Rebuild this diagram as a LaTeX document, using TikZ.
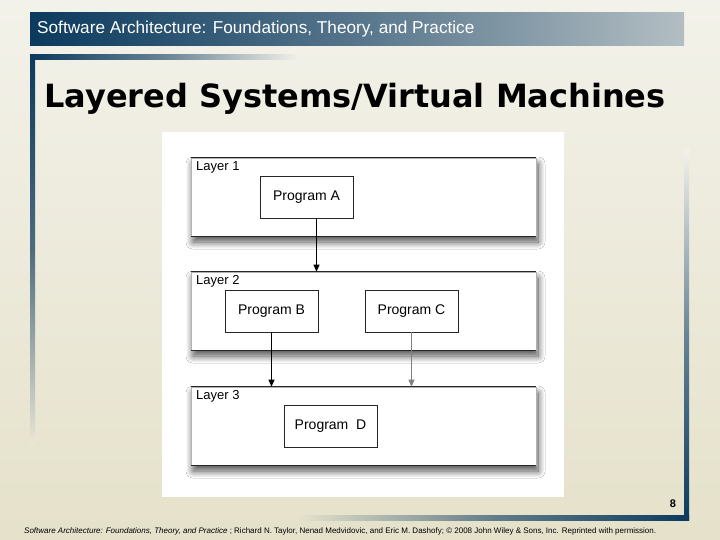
\documentclass[tikz,border=0pt]{standalone}
\usepackage{fontspec}
\setmainfont{Liberation Sans}
\newfontfamily\titlefont{DejaVu Sans}
\usetikzlibrary{arrows.meta,shadows.blur}
\definecolor{navy}{HTML}{0B3A5E}
\definecolor{bgtop}{HTML}{F3F2EA}
\definecolor{bgbot}{HTML}{E5E1CA}
\definecolor{hdrlight}{HTML}{B3BEC3}
\tikzset{
  layerbox/.style={draw=gray!60, line width=0.6pt, fill=white, minimum width=345pt, minimum height=78pt,
    blur shadow={shadow xshift=2pt, shadow yshift=-6pt, shadow blur radius=7pt, shadow blur steps=14, shadow opacity=70}},
  layeredge/.style={line width=1.3pt, draw=black!85},
  progbox/.style={draw=black!85, line width=0.9pt, fill=white, minimum width=93pt, minimum height=42pt,
    font=\fontsize{14}{16}\selectfont, inner sep=0pt},
  layerlabel/.style={anchor=north west, font=\fontsize{13}{15}\selectfont, inner sep=0pt},
  arr/.style={line width=0.9pt, -{Triangle[length=7pt,width=6pt]}},
  grayarr/.style={line width=0.6pt, draw=gray, -{Triangle[length=7pt,width=6pt]}}
}
\begin{document}
\begin{tikzpicture}[x=1pt,y=-1pt]
\useasboundingbox (0,0) rectangle (720,540);
\shade[top color=bgtop, bottom color=bgbot] (0,0) rectangle (720,540);
% header
\shade[left color=navy, right color=hdrlight, middle color=navy!55!hdrlight] (30,13) rectangle (684,46);
\node[anchor=west, text=white, font=\fontsize{17.2}{19}\selectfont, inner sep=0pt] (hdr) at (37,29.5) {Software Architecture: Foundations, Theory, and Practice};
% frame bars
\shade[top color=navy, bottom color=bgbot!80!white, middle color=navy!70!bgbot] (30,55) rectangle (35,445);
\shade[left color=navy, right color=bgtop, middle color=navy!60!bgtop] (30,55) rectangle (300,60);
\shade[top color=bgtop, bottom color=navy, middle color=navy!60!bgtop] (684,150) rectangle (689,520);
\shade[left color=bgbot, right color=navy, middle color=navy!60!bgbot] (300,515) rectangle (689,520);
% title
\node[anchor=base west, font=\titlefont\bfseries\fontsize{32}{36}\selectfont, inner sep=0pt] (title) at (44,108) {Layered Systems/Virtual Machines};
% diagram background
\fill[white] (162,132) rectangle (564,497);
% layers
\node[layerbox] (L1) at (363.5,197) {};
\node[layerbox] (L2) at (363.5,311) {};
\node[layerbox] (L3) at (363.5,426) {};
\foreach \L in {L1,L2,L3}{
  \draw[layeredge] (\L.north west) -- (\L.north east);
  \draw[layeredge] (\L.south west) -- (\L.south east);
}
\node[layerlabel] (l1) at (196,161.5) {Layer 1};
\node[layerlabel] (l2) at (196,275.5) {Layer 2};
\node[layerlabel] (l3) at (196,390.5) {Layer 3};
\node[progbox] (A) at (306.5,197) {Program A};
\node[progbox] (B) at (271.5,311) {Program B};
\node[progbox] (C) at (411.5,311) {Program C};
\node[progbox] (D) at (330.5,426) {Program\ \ D};
\coordinate (Aout) at ([xshift=10pt]A.south);
\draw[arr] (Aout) -- (Aout |- L2.north);
\draw[arr] (B.south) -- (B.south |- L3.north);
\draw[grayarr] (C.south) -- (C.south |- L3.north);
% page number and footer
\node[font=\bfseries\fontsize{11}{12}\selectfont, inner sep=0pt] (pg) at (673,504) {8};
\node[anchor=west, font=\fontsize{8.0}{9}\selectfont, inner sep=0pt] (foot) at (24,531) {\textit{Software Architecture: Foundations, Theory, and Practice} ; Richard N. Taylor, Nenad Medvidovic, and Eric M. Dashofy; © 2008 John Wiley \& Sons, Inc. Reprinted with permission.};
\end{tikzpicture}
\end{document}
